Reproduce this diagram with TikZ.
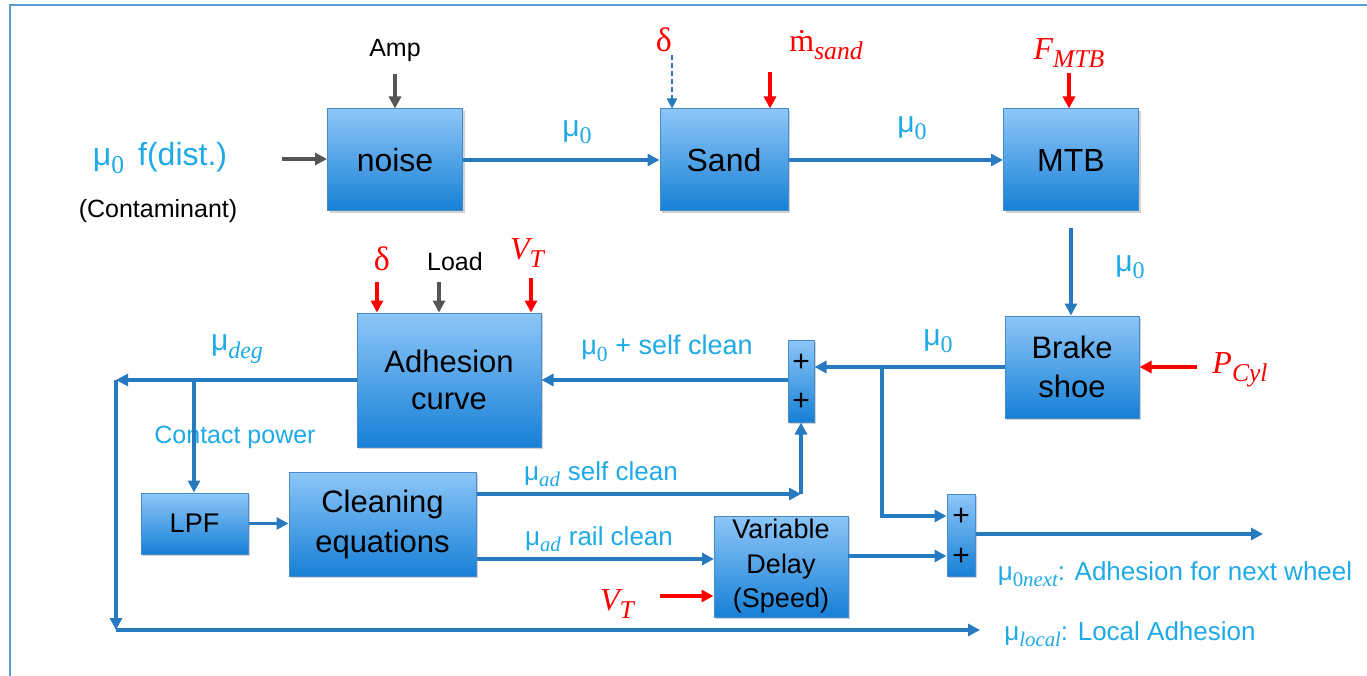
\documentclass[tikz,border=0pt]{standalone}
\usepackage{fontspec}
\setmainfont{Liberation Sans}
\newfontfamily\cmb{Liberation Serif}
\usetikzlibrary{arrows.meta,shadows}
\definecolor{lineblue}{RGB}{40,122,192}
\definecolor{lblblue}{RGB}{30,170,230}
\definecolor{boxtop}{RGB}{142,198,248}
\definecolor{boxbot}{RGB}{22,128,214}
\definecolor{boxborder}{RGB}{70,140,205}
\definecolor{framecol}{RGB}{90,155,212}
\definecolor{arrgray}{RGB}{85,85,85}
\definecolor{arrred}{RGB}{255,0,0}
\newcommand\fs[1]{\fontsize{#1}{#1}\selectfont}
\makeatletter
\newcommand\sbi[1]{\raisebox{-0.25em}{\fontsize{\fpeval{0.8*\f@size}}{0}\selectfont\cmb\itshape #1}}
\newcommand\sbu[1]{\raisebox{-0.25em}{\fontsize{\fpeval{0.8*\f@size}}{0}\selectfont\cmb #1}}
\makeatother
\tikzset{
  box/.style={draw=boxborder, line width=1pt, top color=boxtop, bottom color=boxbot,
    inner sep=0pt, align=center, text=black,
    drop shadow={opacity=0.35, shadow xshift=2pt, shadow yshift=-2pt}},
  lbl/.style={text=lblblue, inner sep=0pt},
  rlbl/.style={text=arrred, inner sep=0pt},
  klbl/.style={text=black, inner sep=0pt},
  arr/.style={draw=lineblue, line width=3.2pt, -{Triangle[length=12pt,width=12pt]}},
  rarr/.style={draw=arrred, line width=3.2pt, -{Triangle[length=12pt,width=12pt]}},
  garr/.style={draw=arrgray, line width=3.2pt, -{Triangle[length=12pt,width=12pt]}},
  darr/.style={draw=lineblue, line width=1.5pt, dash pattern=on 5pt off 3pt, -{Triangle[length=10pt,width=10pt]}},
  plus/.style={text=black, inner sep=0pt, font=\fs{30}}
}
\begin{document}
\begin{tikzpicture}[x=1pt,y=-1pt]
\useasboundingbox (0,0) rectangle (1367,676);
\fill[white] (0,0) rectangle (1367,676);
% frame
\draw[framecol, line width=2pt] (10,676) -- (10,5) -- (1367,5);

% boxes
\node[box, minimum width=135pt, minimum height=102pt, font=\fs{32}] (noise) at (395,160) {noise};
\node[box, minimum width=128pt, minimum height=102pt, font=\fs{32}] (sand) at (724,160) {Sand};
\node[box, minimum width=135pt, minimum height=102pt, font=\fs{32}] (mtb) at (1071,160) {MTB};
\node[box, minimum width=134pt, minimum height=102pt, font=\fontsize{31}{39}\selectfont] (brake) at (1072,367) {Brake\\shoe};
\node[box, minimum width=184pt, minimum height=134pt, font=\fontsize{31}{37}\selectfont] (adh) at (449,380) {Adhesion\\curve};
\node[box, minimum width=26pt, minimum height=82pt] (s1) at (801,381) {};
\node[box, minimum width=107pt, minimum height=61pt, font=\fs{27}] (lpf) at (194.5,523.5) {LPF};
\node[box, minimum width=187pt, minimum height=104pt, font=\fontsize{31}{40}\selectfont] (clean) at (382.5,524) {Cleaning\\equations};
\node[box, minimum width=134pt, minimum height=101pt, font=\fontsize{27}{34.5}\selectfont] (vd) at (781,566.5) {Variable\\Delay\\(Speed)};
\node[box, minimum width=28pt, minimum height=82pt] (s2) at (961,535) {};
\node[plus] (s1a) at (801,363) {+};
\node[plus] (s1b) at (801,402) {+};
\node[plus] (s2a) at (961,517) {+};
\node[plus] (s2b) at (961,557) {+};

% input labels
\node[lbl, font=\fs{32}] (mu0f) at (160,158) {μ\sbu{0}\hspace{14pt}f(dist.)};
\node[klbl, font=\fs{25}] (cont) at (158,211) {(Contaminant)};
\node[klbl, font=\fs{25}] (amp) at (395,50) {Amp};
\node[rlbl, font=\fs{34}] (delta1) at (664,40) {\cmb δ};
\node[rlbl, font=\fs{32}] (msand) at (826,45) {\cmb\.{m}\sbi{sand}};
\node[rlbl, font=\fs{32}] (fmtb) at (1069,53) {\cmb\itshape F\sbi{MTB}};
\node[rlbl, font=\fs{32}] (pcyl) at (1240,370) {\cmb\itshape P\sbi{Cyl}};
\node[rlbl, font=\fs{34}] (delta2) at (382,259) {\cmb δ};
\node[klbl, font=\fs{25}] (load) at (455,262) {Load};
\node[rlbl, font=\fs{32}] (vt1) at (527,253) {\cmb\itshape V\sbi{T}};
\node[rlbl, font=\fs{32}] (vt2) at (617,604) {\cmb\itshape V\sbi{T}};

% blue labels
\node[lbl, font=\fs{30}] (l1) at (577,132) {μ\sbu{0}};
\node[lbl, font=\fs{30}] (l2) at (912,128) {μ\sbu{0}};
\node[lbl, font=\fs{30}] (l3) at (1130,267) {μ\sbu{0}};
\node[lbl, font=\fs{30}] (l4) at (938,341) {μ\sbu{0}};
\node[lbl, font=\fs{30}] (l5) at (237,349) {μ\sbi{deg}};
\node[lbl, font=\fs{25}] (l6) at (235,437) {Contact power};
\node[lbl, font=\fs{27}] (l7) at (667,348) {μ\sbu{0} + self clean};
\node[lbl, font=\fs{26}] (l8) at (601,474) {μ\sbi{ad}\hspace{8pt}self clean};
\node[lbl, font=\fs{26}] (l9) at (599,539) {μ\sbi{ad}\hspace{8pt}rail clean};
\node[lbl, font=\fs{26}] (l10) at (1175,574) {μ\sbu{0}\sbi{next}: Adhesion for next wheel};
\node[lbl, font=\fs{26}] (l11) at (1130,634) {μ\sbi{local}: Local Adhesion};

% coordinates
\coordinate (cin) at (282,159);
\coordinate (ampa) at (395,74);
\coordinate (d1a) at (672,55);
\coordinate (msa) at (770,72);
\coordinate (fma) at (1069,73);
\coordinate (mtbo) at (1071,228);
\coordinate (pca) at (1197,367);
\coordinate (b1) at (882,367);
\coordinate (b2) at (882,516);
\coordinate (k1) at (801,494);
\coordinate (k2) at (714,559);
\coordinate (vta) at (660,596);
\coordinate (vdo) at (848,556);
\coordinate (outp) at (1263,534);
\coordinate (d1) at (116,380);
\coordinate (d2) at (116,630);
\coordinate (d3) at (980,630);
\coordinate (cp) at (194,380);
\coordinate (d2a) at (377,282);
\coordinate (lda) at (439,282);
\coordinate (vt1a) at (531,278);

% connectors top row
\draw[garr] (cin) -- (noise.west |- cin);
\draw[garr] (ampa) -- (ampa |- noise.north);
\draw[arr] (noise.east) -- (sand.west);
\draw[darr] (d1a) -- (d1a |- sand.north);
\draw[rarr] (msa) -- (msa |- sand.north);
\draw[arr] (sand.east) -- (mtb.west);
\draw[rarr] (fma) -- (fma |- mtb.north);
\draw[arr] (mtbo) -- (mtbo |- brake.north);
\draw[rarr] (pca) -- (brake.east |- pca);

% middle
\draw[arr] (brake.west) -- (brake.west -| s1.east);
\draw[arr] (b1) -- (b2) -- (b2 -| s2.west);
\draw[arr] (s1.west |- adh.east) -- (adh.east);
\draw[rarr] (d2a) -- (d2a |- adh.north);
\draw[garr] (lda) -- (lda |- adh.north);
\draw[rarr] (vt1a) -- (vt1a |- adh.north);
\draw[arr] (adh.west) -- (d1);
\draw[arr] (d1) -- (d2);
\draw[arr] (d2) -- (d3);
\draw[arr] (cp) -- (cp |- lpf.north);
\draw[arr] (lpf.east) -- (lpf.east -| clean.west);

% bottom
\draw[arr] (clean.east |- k1) -- (k1);
\draw[arr] (k1) -- (s1.south);
\draw[arr] (clean.east |- k2) -- (k2);
\draw[rarr] (vta) -- (vta -| vd.west);
\draw[arr] (vdo) -- (vdo -| s2.west);
\draw[arr] (s2.east |- outp) -- (outp);
\end{tikzpicture}
\end{document}
